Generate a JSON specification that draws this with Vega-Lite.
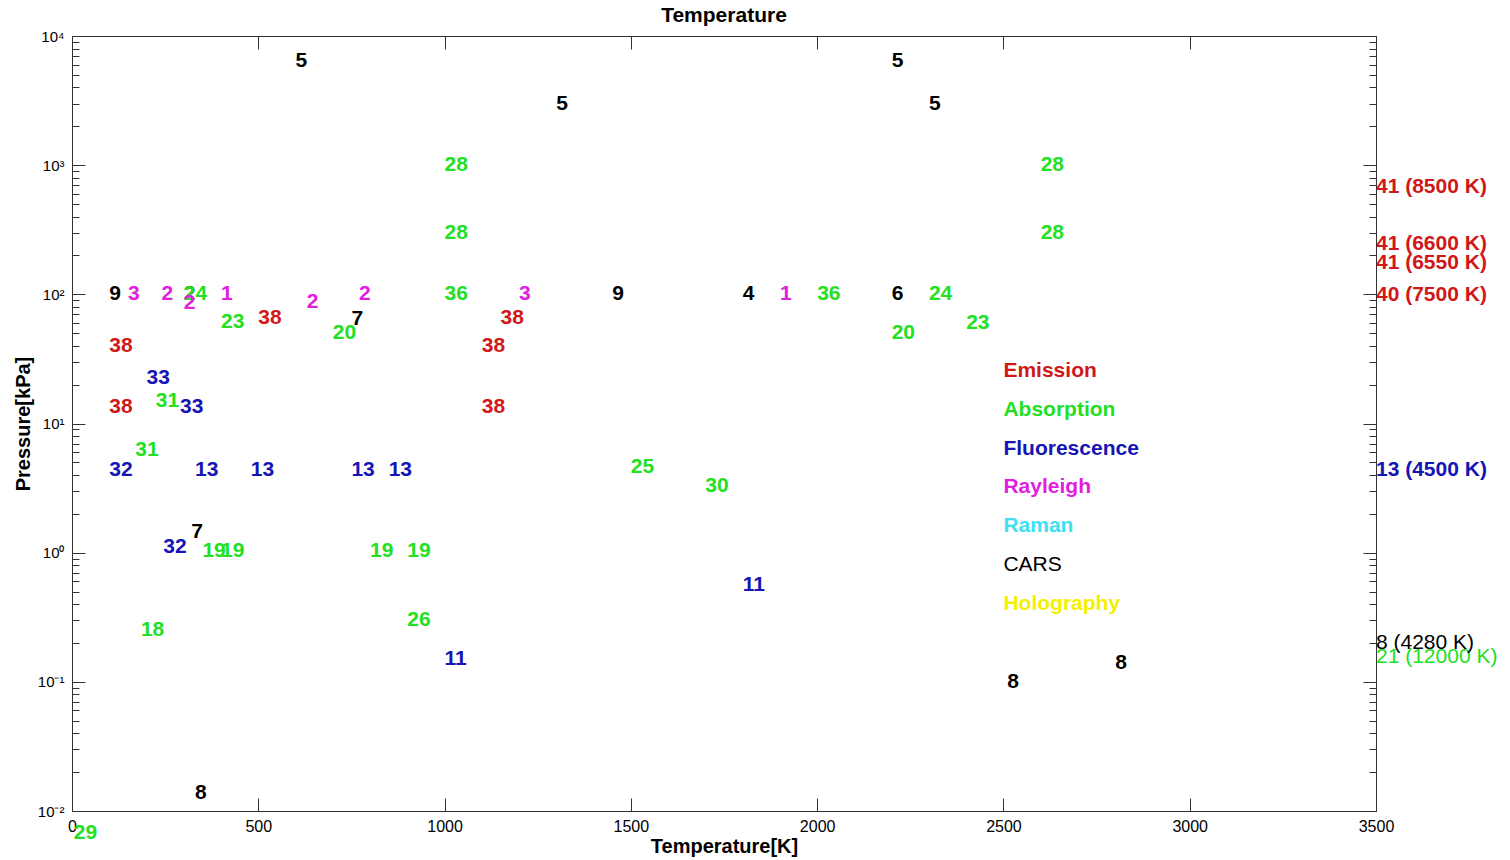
{
  "$schema": "https://vega.github.io/schema/vega-lite/v6.json",
  "width": 1304,
  "height": 775,
  "autosize": {"type": "none"},
  "padding": {"left": 72, "top": 36, "right": 134, "bottom": 49},
  "background": "white",
  "title": {"text": "Temperature", "fontSize": 21, "fontWeight": "bold", "color": "#000000", "offset": 3, "anchor": "middle", "frame": "group"},
  "config": {
    "font": "Liberation Sans",
    "view": {"stroke": null},
    "axis": {"grid": false, "domainColor": "#333333", "tickColor": "#333333", "labelColor": "#000000", "titleColor": "#000000", "labelOverlap": false, "labelFlush": false}
  },
  "data": {"values": [
    {"label": "9", "T": 100, "P": 100, "tech": "CARS"},
    {"label": "2", "T": 300, "P": 100, "tech": "CARS"},
    {"label": "5", "T": 600, "P": 6400, "tech": "CARS"},
    {"label": "5", "T": 1300, "P": 3000, "tech": "CARS"},
    {"label": "5", "T": 2200, "P": 6400, "tech": "CARS"},
    {"label": "5", "T": 2300, "P": 3000, "tech": "CARS"},
    {"label": "7", "T": 750, "P": 64, "tech": "CARS"},
    {"label": "7", "T": 320, "P": 1.45, "tech": "CARS"},
    {"label": "8", "T": 330, "P": 0.0137, "tech": "CARS"},
    {"label": "9", "T": 1450, "P": 100, "tech": "CARS"},
    {"label": "4", "T": 1800, "P": 100, "tech": "CARS"},
    {"label": "6", "T": 2200, "P": 100, "tech": "CARS"},
    {"label": "8", "T": 2510, "P": 0.1, "tech": "CARS"},
    {"label": "8", "T": 2800, "P": 0.14, "tech": "CARS"},
    {"label": "24", "T": 300, "P": 100, "tech": "Absorption"},
    {"label": "23", "T": 400, "P": 61, "tech": "Absorption"},
    {"label": "20", "T": 700, "P": 50, "tech": "Absorption"},
    {"label": "36", "T": 1000, "P": 100, "tech": "Absorption"},
    {"label": "28", "T": 1000, "P": 1000, "tech": "Absorption"},
    {"label": "28", "T": 1000, "P": 300, "tech": "Absorption"},
    {"label": "31", "T": 225, "P": 15, "tech": "Absorption"},
    {"label": "31", "T": 170, "P": 6.25, "tech": "Absorption"},
    {"label": "19", "T": 350, "P": 1.03, "tech": "Absorption"},
    {"label": "19", "T": 400, "P": 1.03, "tech": "Absorption"},
    {"label": "19", "T": 800, "P": 1.03, "tech": "Absorption"},
    {"label": "19", "T": 900, "P": 1.03, "tech": "Absorption"},
    {"label": "18", "T": 185, "P": 0.25, "tech": "Absorption"},
    {"label": "26", "T": 900, "P": 0.3, "tech": "Absorption"},
    {"label": "29", "T": 5, "P": 0.0067, "tech": "Absorption"},
    {"label": "25", "T": 1500, "P": 4.6, "tech": "Absorption"},
    {"label": "30", "T": 1700, "P": 3.3, "tech": "Absorption"},
    {"label": "36", "T": 2000, "P": 100, "tech": "Absorption"},
    {"label": "24", "T": 2300, "P": 100, "tech": "Absorption"},
    {"label": "20", "T": 2200, "P": 50, "tech": "Absorption"},
    {"label": "23", "T": 2400, "P": 60, "tech": "Absorption"},
    {"label": "28", "T": 2600, "P": 1000, "tech": "Absorption"},
    {"label": "28", "T": 2600, "P": 300, "tech": "Absorption"},
    {"label": "21 (12000 K)", "T": 3500, "P": 0.157, "tech": "Absorption"},
    {"label": "8 (4280 K)", "T": 3500, "P": 0.2, "tech": "CARS"},
    {"label": "3", "T": 150, "P": 100, "tech": "Rayleigh"},
    {"label": "2", "T": 240, "P": 100, "tech": "Rayleigh"},
    {"label": "2", "T": 300, "P": 86, "tech": "Rayleigh"},
    {"label": "1", "T": 400, "P": 100, "tech": "Rayleigh"},
    {"label": "2", "T": 630, "P": 88, "tech": "Rayleigh"},
    {"label": "2", "T": 770, "P": 100, "tech": "Rayleigh"},
    {"label": "3", "T": 1200, "P": 100, "tech": "Rayleigh"},
    {"label": "1", "T": 1900, "P": 100, "tech": "Rayleigh"},
    {"label": "38", "T": 500, "P": 66, "tech": "Emission"},
    {"label": "38", "T": 100, "P": 40, "tech": "Emission"},
    {"label": "38", "T": 100, "P": 13.4, "tech": "Emission"},
    {"label": "38", "T": 1150, "P": 66, "tech": "Emission"},
    {"label": "38", "T": 1100, "P": 40, "tech": "Emission"},
    {"label": "38", "T": 1100, "P": 13.4, "tech": "Emission"},
    {"label": "41 (8500 K)", "T": 3500, "P": 680, "tech": "Emission"},
    {"label": "41 (6600 K)", "T": 3500, "P": 244, "tech": "Emission"},
    {"label": "41 (6550 K)", "T": 3500, "P": 174, "tech": "Emission"},
    {"label": "40 (7500 K)", "T": 3500, "P": 99, "tech": "Emission"},
    {"label": "33", "T": 200, "P": 22.4, "tech": "Fluorescence"},
    {"label": "33", "T": 290, "P": 13.4, "tech": "Fluorescence"},
    {"label": "32", "T": 100, "P": 4.4, "tech": "Fluorescence"},
    {"label": "13", "T": 330, "P": 4.4, "tech": "Fluorescence"},
    {"label": "13", "T": 480, "P": 4.4, "tech": "Fluorescence"},
    {"label": "13", "T": 750, "P": 4.4, "tech": "Fluorescence"},
    {"label": "13", "T": 850, "P": 4.4, "tech": "Fluorescence"},
    {"label": "32", "T": 245, "P": 1.11, "tech": "Fluorescence"},
    {"label": "11", "T": 1000, "P": 0.15, "tech": "Fluorescence"},
    {"label": "11", "T": 1800, "P": 0.56, "tech": "Fluorescence"},
    {"label": "13 (4500 K)", "T": 3500, "P": 4.35, "tech": "Fluorescence"},
    {"label": "Emission", "T": 2500, "P": 25.5, "tech": "Emission"},
    {"label": "Absorption", "T": 2500, "P": 12.7, "tech": "Absorption"},
    {"label": "Fluorescence", "T": 2500, "P": 6.4, "tech": "Fluorescence"},
    {"label": "Rayleigh", "T": 2500, "P": 3.2, "tech": "Rayleigh"},
    {"label": "Raman", "T": 2500, "P": 1.6, "tech": "Raman"},
    {"label": "CARS", "T": 2500, "P": 0.8, "tech": "CARS"},
    {"label": "Holography", "T": 2500, "P": 0.4, "tech": "Holography"}
  ]},
  "resolve": {"axis": {"x": "independent", "y": "independent"}},
  "layer": [
    {
      "transform": [{"filter": "!(datum.label === '8 (4280 K)' || datum.label === '21 (12000 K)' || datum.label === 'CARS')"}],
      "mark": {"type": "text", "align": "left", "baseline": "middle", "fontSize": 21, "fontWeight": "bold"},
      "encoding": {
        "x": {"field": "T", "type": "quantitative", "scale": {"domain": [0, 3500], "nice": false, "zero": false},
          "axis": {"orient": "bottom", "values": [0, 500, 1000, 1500, 2000, 2500, 3000, 3500], "tickSize": -13, "labelPadding": 20, "labelFontSize": 16, "format": "d",
            "title": "Temperature[K]", "titleFontSize": 20, "titleFontWeight": "bold", "titlePadding": 2}},
        "y": {"field": "P", "type": "quantitative", "scale": {"type": "log", "domain": [0.01, 10000], "nice": false},
          "axis": {"orient": "left", "values": [0.01, 0.1, 1, 10, 100, 1000, 10000], "tickSize": -13, "labelPadding": 21, "labelFontSize": 15,
            "labelExpr": "['10⁻²','10⁻¹','10⁰','10¹','10²','10³','10⁴'][round(log(datum.value)/LN10)+2]",
            "title": "Pressure[kPa]", "titleFontSize": 20, "titleFontWeight": "bold", "titlePadding": 4}},
        "text": {"field": "label", "type": "nominal"},
        "color": {"field": "tech", "type": "nominal", "legend": null,
          "scale": {"domain": ["Emission", "Absorption", "Fluorescence", "Rayleigh", "Raman", "CARS", "Holography"],
            "range": ["#d01818", "#22e022", "#1515b5", "#e020e0", "#40e0f0", "#000000", "#f5f000"]}}
      }
    },
    {
      "transform": [{"filter": "datum.label === '8 (4280 K)' || datum.label === '21 (12000 K)' || datum.label === 'CARS'"}],
      "mark": {"type": "text", "align": "left", "baseline": "middle", "fontSize": 21, "fontWeight": "normal"},
      "encoding": {
        "x": {"field": "T", "type": "quantitative", "scale": {"domain": [0, 3500], "nice": false, "zero": false},
          "axis": {"orient": "top", "values": [0, 500, 1000, 1500, 2000, 2500, 3000, 3500], "tickSize": -13, "labels": false, "title": null}},
        "y": {"field": "P", "type": "quantitative", "scale": {"type": "log", "domain": [0.01, 10000], "nice": false},
          "axis": {"orient": "right", "values": [0.01, 0.1, 1, 10, 100, 1000, 10000], "tickSize": -13, "labels": false, "title": null}},
        "text": {"field": "label", "type": "nominal"},
        "color": {"field": "tech", "type": "nominal", "legend": null,
          "scale": {"domain": ["Emission", "Absorption", "Fluorescence", "Rayleigh", "Raman", "CARS", "Holography"],
            "range": ["#d01818", "#22e022", "#1515b5", "#e020e0", "#40e0f0", "#000000", "#f5f000"]}}
      }
    },
    {
      "mark": {"type": "point", "opacity": 0, "size": 1},
      "encoding": {
        "x": {"field": "T", "type": "quantitative", "scale": {"domain": [0, 3500], "nice": false, "zero": false}, "axis": null},
        "y": {"field": "P", "type": "quantitative", "scale": {"type": "log", "domain": [0.01, 10000], "nice": false},
          "axis": {"orient": "left", "values": [0.02, 0.03, 0.04, 0.05, 0.06, 0.07, 0.08, 0.09, 0.2, 0.3, 0.4, 0.5, 0.6, 0.7, 0.8, 0.9, 2, 3, 4, 5, 6, 7, 8, 9, 20, 30, 40, 50, 60, 70, 80, 90, 200, 300, 400, 500, 600, 700, 800, 900, 2000, 3000, 4000, 5000, 6000, 7000, 8000, 9000],
            "tickSize": -7, "labels": false, "domain": false, "title": null}}
      }
    },
    {
      "mark": {"type": "point", "opacity": 0, "size": 1},
      "encoding": {
        "x": {"field": "T", "type": "quantitative", "scale": {"domain": [0, 3500], "nice": false, "zero": false}, "axis": null},
        "y": {"field": "P", "type": "quantitative", "scale": {"type": "log", "domain": [0.01, 10000], "nice": false},
          "axis": {"orient": "right", "values": [0.02, 0.03, 0.04, 0.05, 0.06, 0.07, 0.08, 0.09, 0.2, 0.3, 0.4, 0.5, 0.6, 0.7, 0.8, 0.9, 2, 3, 4, 5, 6, 7, 8, 9, 20, 30, 40, 50, 60, 70, 80, 90, 200, 300, 400, 500, 600, 700, 800, 900, 2000, 3000, 4000, 5000, 6000, 7000, 8000, 9000],
            "tickSize": -7, "labels": false, "domain": false, "title": null}}
      }
    }
  ]
}
